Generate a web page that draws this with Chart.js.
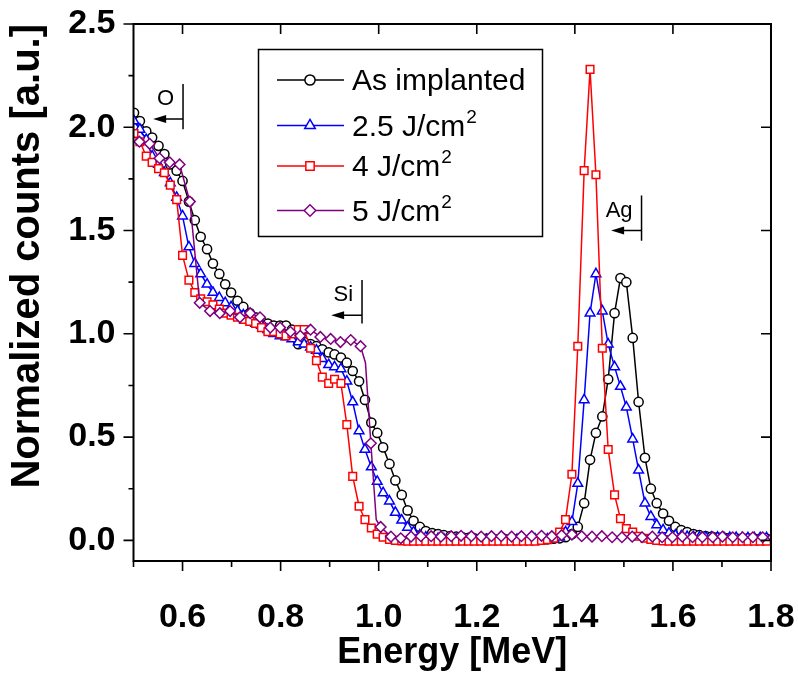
<!DOCTYPE html>
<html><head><meta charset="utf-8">
<script src="https://cdn.jsdelivr.net/npm/chart.js@4.4.0/dist/chart.umd.min.js"></script>
<style>html,body{margin:0;padding:0;background:#fff;}</style>
</head><body>
<canvas id="c" width="798" height="679"></canvas>
<script>
// ---- data ----
const energy = [
0.501,0.513,0.526,0.538,0.551,0.563,0.575,0.588,0.600,0.613,
0.625,0.637,0.650,0.662,0.675,0.687,0.699,0.712,0.724,0.737,
0.749,0.761,0.774,0.786,0.799,0.811,0.823,0.836,0.848,0.861,
0.873,0.885,0.898,0.910,0.923,0.935,0.947,0.960,0.972,0.985,
0.997,1.009,1.022,1.034,1.047,1.059,1.071,1.084,1.096,1.109,
1.121,1.133,1.146,1.158,1.171,1.183,1.195,1.208,1.220,1.233,
1.245,1.257,1.270,1.282,1.295,1.307,1.319,1.332,1.344,1.357,
1.369,1.381,1.394,1.406,1.419,1.431,1.443,1.456,1.468,1.481,
1.493,1.505,1.518,1.530,1.543,1.555,1.567,1.580,1.592,1.605,
1.617,1.629,1.642,1.654,1.667,1.679,1.691,1.704,1.716,1.729,
1.741,1.753,1.766,1.778,1.791];

const asImplanted = [
2.07,2.03,1.98,1.95,1.91,1.87,1.82,1.79,1.74,1.64,
1.55,1.47,1.41,1.34,1.29,1.24,1.20,1.16,1.13,1.10,
1.08,1.06,1.05,1.04,1.04,1.04,1.02,0.95,0.96,0.95,
0.94,0.925,0.91,0.90,0.885,0.86,0.82,0.77,0.68,0.57,
0.52,0.45,0.37,0.29,0.22,0.145,0.095,0.065,0.045,0.035,
0.03,0.025,0.02,0.018,0.015,0.012,0.01,0.01,0.008,0.008,
0.006,0.006,0.005,0.005,0.005,0.004,0.004,0.005,0.005,0.008,
0.01,0.015,0.03,0.065,0.18,0.39,0.52,0.60,0.78,1.10,
1.27,1.25,0.98,0.67,0.40,0.25,0.18,0.13,0.095,0.065,
0.05,0.04,0.03,0.025,0.02,0.018,0.015,0.013,0.012,0.01,
0.01,0.01,0.008,0.008,0.008];

const fluence25 = [
2.03,1.99,1.94,1.86,1.82,1.78,1.73,1.66,1.57,1.42,
1.34,1.29,1.24,1.20,1.175,1.15,1.13,1.11,1.09,1.07,
1.05,1.04,1.02,1.00,0.99,0.985,0.975,0.96,0.95,0.935,
0.92,0.88,0.85,0.84,0.83,0.77,0.67,0.53,0.44,0.355,
0.285,0.23,0.19,0.135,0.097,0.063,0.04,0.025,0.015,0.01,
0.008,0.006,0.005,0.005,0.004,0.004,0.004,0.003,0.003,0.003,
0.003,0.003,0.003,0.004,0.004,0.004,0.005,0.005,0.006,0.008,
0.015,0.04,0.09,0.275,0.68,1.10,1.29,1.11,0.95,0.84,
0.745,0.645,0.49,0.34,0.18,0.115,0.075,0.05,0.035,0.025,
0.02,0.018,0.016,0.015,0.015,0.014,0.014,0.013,0.013,0.013,
0.012,0.012,0.012,0.012,0.012];

const fluence4 = [
1.97,1.93,1.86,1.83,1.80,1.78,1.72,1.65,1.38,1.26,
1.20,1.17,1.155,1.14,1.12,1.10,1.09,1.08,1.07,1.06,
1.05,1.03,1.01,1.01,1.00,0.99,1.00,1.02,1.02,0.93,
0.87,0.79,0.76,0.78,0.76,0.56,0.31,0.165,0.10,0.06,
0.03,0.015,0.005,0.0,-0.003,-0.004,-0.004,-0.004,-0.004,-0.004,
-0.004,-0.004,-0.004,-0.004,-0.004,-0.004,-0.004,-0.004,-0.004,-0.004,
-0.004,-0.004,-0.004,-0.004,-0.004,-0.004,-0.004,0.0,0.003,0.01,
0.04,0.10,0.32,0.94,1.79,2.28,1.77,0.93,0.44,0.22,
0.105,0.057,0.04,0.02,0.01,0.005,0.0,-0.003,-0.004,-0.004,
-0.004,-0.004,-0.004,-0.004,-0.004,-0.004,-0.004,-0.004,-0.004,-0.004,
-0.004,-0.004,-0.004,-0.004,-0.004];

const energy5 = [
0.512,0.533,0.553,0.574,0.594,0.615,0.635,0.656,0.676,0.697,
0.717,0.738,0.758,0.779,0.799,0.820,0.840,0.861,0.881,0.902,
0.922,0.943,0.963,0.973,0.984,0.995,1.004,1.025,1.045,1.066,
1.086,1.107,1.127,1.148,1.168,1.189,1.209,1.230,1.250,1.271,
1.291,1.312,1.332,1.353,1.373,1.394,1.414,1.435,1.455,1.476,
1.496,1.517,1.537,1.558,1.578,1.599,1.619,1.640,1.660,1.681,
1.701,1.722,1.742,1.763,1.783,1.804];

const fluence5 = [
1.93,1.92,1.85,1.83,1.82,1.64,1.15,1.11,1.10,1.11,
1.08,1.10,1.08,1.03,1.03,1.01,0.99,1.02,0.985,0.975,
0.96,0.97,0.94,0.86,0.47,0.10,0.065,0.018,0.01,0.018,
0.02,0.02,0.018,0.02,0.022,0.02,0.018,0.02,0.02,0.018,
0.02,0.02,0.022,0.02,0.025,0.028,0.02,0.018,0.02,0.015,
0.015,0.018,0.015,0.018,0.015,0.015,0.018,0.015,0.015,0.015,
0.018,0.015,0.015,0.015,0.015,0.015];
const fluence5LineOnly = [23, 25];

const seriesNames = ['As implanted', '2.5 J/cm', '4 J/cm', '5 J/cm'];
const seriesSup = ['', '2', '2', '2'];
const xTickLabels = [0.6, 0.8, 1.0, 1.2, 1.4, 1.6, 1.8];
const xMinorTicks = [0.5, 0.7, 0.9, 1.1, 1.3, 1.5, 1.7];
const yTickLabels = [0.0, 0.5, 1.0, 1.5, 2.0, 2.5];
const yMinorTicks = [0.25, 0.75, 1.25, 1.75, 2.25];
const edgeNotes = [
  {text: 'O',  x: 0.601, yTop: 2.21, yBottom: 1.99, yArrow: 2.04, xTip: 0.540},
  {text: 'Si', x: 0.966, yTop: 1.26, yBottom: 1.05, yArrow: 1.09, xTip: 0.903},
  {text: 'Ag', x: 1.536, yTop: 1.67, yBottom: 1.45, yArrow: 1.50, xTip: 1.474}
];

// ---- styles ----
const FONT = "'Liberation Sans', Arial, sans-serif";
const styles = [
  {color: '#000000', point: 'circle',   radius: 4.6},
  {color: '#0000ff', point: 'triangle', radius: 5.6},
  {color: '#ff0000', point: 'rect',     radius: 5.4},
  {color: '#800080', point: 'rectRot',  radius: 5.3}
];

function mk(xs, ys) { return xs.map((x, i) => ({x: x, y: ys[i]})); }

function ds(idx, data, order, radiusFn) {
  const s = styles[idx];
  return {
    label: seriesNames[idx],
    data: data,
    borderColor: s.color,
    borderWidth: 1.5,
    pointStyle: s.point,
    pointRadius: radiusFn || s.radius,
    pointBorderWidth: 1.5,
    pointBorderColor: s.color,
    pointBackgroundColor: '#ffffff',
    tension: 0,
    fill: false,
    clip: 0,
    order: order
  };
}

const frameAndNotes = {
  id: 'frameAndNotes',
  afterDraw(chart) {
    const ctx = chart.ctx;
    const a = chart.chartArea;
    const xs = chart.scales.x, ys = chart.scales.y;
    ctx.save();
    ctx.strokeStyle = '#000';
    ctx.fillStyle = '#000';
    ctx.lineWidth = 2;
    ctx.strokeRect(a.left, a.top, a.right - a.left, a.bottom - a.top);
    ctx.lineWidth = 1.6;
    ctx.beginPath();
    xTickLabels.forEach(v => {
      const p = xs.getPixelForValue(v);
      ctx.moveTo(p, a.bottom); ctx.lineTo(p, a.bottom + 10);
      ctx.moveTo(p, a.top); ctx.lineTo(p, a.top + 10);
    });
    xMinorTicks.forEach(v => {
      const p = xs.getPixelForValue(v);
      ctx.moveTo(p, a.bottom); ctx.lineTo(p, a.bottom + 6);
    });
    yTickLabels.forEach(v => {
      const p = ys.getPixelForValue(v);
      ctx.moveTo(a.left, p); ctx.lineTo(a.left - 10, p);
      ctx.moveTo(a.right, p); ctx.lineTo(a.right - 10, p);
    });
    yMinorTicks.forEach(v => {
      const p = ys.getPixelForValue(v);
      ctx.moveTo(a.left, p); ctx.lineTo(a.left - 5, p);
    });
    ctx.stroke();

    ctx.lineWidth = 1.5;
    ctx.font = '22px ' + FONT;
    ctx.textAlign = 'right';
    ctx.textBaseline = 'alphabetic';
    edgeNotes.forEach(n => {
      const px = xs.getPixelForValue(n.x);
      const pt = ys.getPixelForValue(n.yTop);
      const pb = ys.getPixelForValue(n.yBottom);
      const pa = ys.getPixelForValue(n.yArrow);
      const tip = xs.getPixelForValue(n.xTip);
      ctx.beginPath();
      ctx.moveTo(px, pt); ctx.lineTo(px, pb);
      ctx.moveTo(px, pa); ctx.lineTo(tip + 10, pa);
      ctx.stroke();
      ctx.beginPath();
      ctx.moveTo(tip, pa); ctx.lineTo(tip + 13, pa - 4); ctx.lineTo(tip + 13, pa + 4);
      ctx.closePath(); ctx.fill();
      ctx.fillText(n.text, px - 9, pa - 14);
    });

    const L = {x0: 258.5, y0: 49.5, x1: 542.5, y1: 236.5};
    const rows = [80, 125.5, 166, 210.5];
    ctx.lineWidth = 1.5;
    ctx.strokeStyle = '#000';
    ctx.strokeRect(L.x0, L.y0, L.x1 - L.x0, L.y1 - L.y0);
    ctx.textAlign = 'left';
    rows.forEach((y, i) => {
      const s = styles[i];
      ctx.strokeStyle = s.color;
      ctx.lineWidth = 1.5;
      ctx.beginPath(); ctx.moveTo(277, y); ctx.lineTo(344, y); ctx.stroke();
      ctx.fillStyle = '#fff';
      Chart.helpers.drawPoint(ctx, {pointStyle: s.point, radius: s.radius + 0.5, borderWidth: 1.5, rotation: 0}, 310, y);
      ctx.fillStyle = '#000';
      ctx.font = '30px ' + FONT;
      ctx.fillText(seriesNames[i], 352, y + 10);
      if (seriesSup[i]) {
        const w = ctx.measureText(seriesNames[i]).width;
        ctx.font = '19px ' + FONT;
        ctx.fillText(seriesSup[i], 352 + w + 1, y - 3);
      }
    });
    ctx.restore();
  }
};

new Chart(document.getElementById('c'), {
  type: 'line',
  data: {
    datasets: [
      ds(0, mk(energy, asImplanted), 4),
      ds(1, mk(energy, fluence25), 3),
      ds(2, mk(energy, fluence4), 2),
      ds(3, mk(energy5, fluence5), 1, ctx => fluence5LineOnly.includes(ctx.dataIndex) ? 0 : styles[3].radius)
    ]
  },
  options: {
    responsive: false,
    animation: false,
    devicePixelRatio: 1,
    layout: {padding: {left: 0, right: 27, top: 24, bottom: 0}},
    plugins: {legend: {display: false}, tooltip: {enabled: false}},
    scales: {
      x: {
        type: 'linear', position: 'bottom', min: 0.5, max: 1.8,
        afterBuildTicks: s => { s.ticks = xTickLabels.map(v => ({value: v})); },
        afterFit: s => { s.height = 118; s.paddingLeft = 0; s.paddingRight = 0; },
        grid: {display: false, drawTicks: false},
        border: {display: false},
        ticks: {color: '#000', padding: 36, maxRotation: 0, autoSkip: false,
                font: {family: FONT, size: 34, weight: 'bold'},
                callback: v => Number(v).toFixed(1)},
        title: {display: true, text: 'Energy [MeV]', color: '#000',
                font: {family: FONT, size: 36, weight: 'bold'}, padding: {top: 0, bottom: 4}}
      },
      y: {
        type: 'linear', min: -0.1, max: 2.5,
        afterBuildTicks: s => { s.ticks = yTickLabels.map(v => ({value: v})); },
        afterFit: s => { s.width = 133.5; s.paddingTop = 0; s.paddingBottom = 0; },
        grid: {display: false, drawTicks: false},
        border: {display: false},
        ticks: {color: '#000', padding: 18,
                font: {family: FONT, size: 34, weight: 'bold'},
                callback: v => Number(v).toFixed(1)},
        title: {display: true, text: 'Normalized counts [a.u.]', color: '#000', align: 'end',
                font: {family: FONT, size: 40, weight: 'bold'}, padding: {top: 4, bottom: 0}}
      }
    }
  },
  plugins: [frameAndNotes]
});
</script>
</body></html>
